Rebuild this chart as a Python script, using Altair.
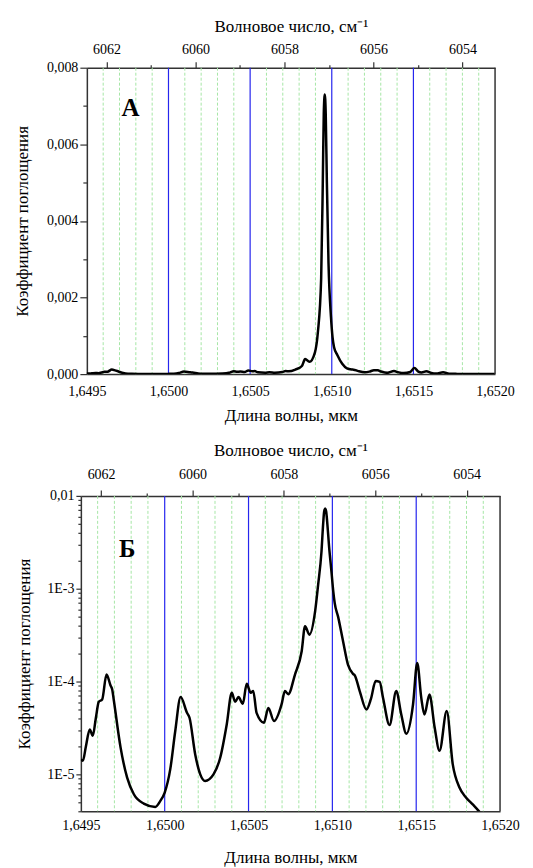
import altair as alt
import pandas as pd

# ---- spectrum (wavelength in µm, absorption coefficient) ----
wl = [1.64950, 1.649512, 1.649530, 1.649553, 1.649571, 1.649589, 1.649607, 1.649627,
      1.649653, 1.649677, 1.649687, 1.649697, 1.649737, 1.649776, 1.649816, 1.649875,
      1.649944, 1.649974, 1.650000, 1.650033, 1.650063, 1.650095, 1.650133, 1.650148,
      1.650182, 1.650212, 1.650241, 1.650291, 1.650331, 1.650370, 1.650400, 1.650420,
      1.650440, 1.650466, 1.650489, 1.650513, 1.650528, 1.650548, 1.650592, 1.650618,
      1.650652, 1.650697, 1.650717, 1.650737, 1.650777, 1.650817, 1.650837, 1.650863,
      1.650897, 1.650915, 1.650935, 1.650945, 1.650951, 1.650957, 1.650963, 1.650970,
      1.650980, 1.650995, 1.651005, 1.651014, 1.651034, 1.651064, 1.651093, 1.651123,
      1.651133, 1.651163, 1.651203, 1.651230, 1.651258, 1.651282, 1.651302, 1.651341,
      1.651381, 1.651410, 1.651441, 1.651481, 1.651506, 1.651530, 1.651549, 1.651579,
      1.651610, 1.651639, 1.651682, 1.651718, 1.651758, 1.651798, 1.651837, 1.651872,
      1.651900, 1.652000]
absorb = [1.45e-5, 1.40e-5, 2.0e-5, 3.05e-5, 2.6e-5, 4.0e-5, 6.05e-5, 6.4e-5,
          1.19e-4, 9.06e-5, 8.2e-5, 6.2e-5, 1.94e-5, 9.2e-6, 6.1e-6, 4.84e-6,
          4.46e-6, 5.18e-6, 6.36e-6, 1.13e-5, 2.93e-5, 6.8e-5, 4.6e-5, 4.07e-5,
          1.64e-5, 1.0e-5, 8.5e-6, 1.0e-5, 1.51e-5, 3.45e-5, 7.55e-5, 6.05e-5,
          6.8e-5, 5.75e-5, 9.44e-5, 7.55e-5, 7.9e-5, 4.6e-5, 3.6e-5, 5.2e-5,
          3.75e-5, 5.66e-5, 7.9e-5, 7.3e-5, 1.19e-4, 2.12e-4, 3.95e-4, 3.2e-4,
          5.7e-4, 1.1e-3, 2.5e-3, 5.0e-3, 6.8e-3, 7.3e-3, 6.8e-3, 5.0e-3,
          2.9e-3, 1.5e-3, 9.5e-4, 7.0e-4, 5.0e-4, 2.7e-4, 1.52e-4, 1.21e-4,
          1.17e-4, 7.9e-5, 5.0e-5, 6.5e-5, 1.01e-4, 9.9e-5, 6.7e-5, 3.4e-5,
          7.9e-5, 4.5e-5, 2.74e-5, 5.66e-5, 1.58e-4, 6.7e-5, 4.4e-5, 7.24e-5,
          3.2e-5, 1.79e-5, 4.8e-5, 1.28e-5, 7.2e-6, 5.6e-6, 4.75e-6, 4.04e-6,
          3.4e-6, 2.0e-6]

x_domain = [1.6495, 1.6520]
x_ticks = [1.6495, 1.6500, 1.6505, 1.6510, 1.6515, 1.6520]
major_lines = [1.6500, 1.6505, 1.6510, 1.6515]
minor_lines = [1.6496, 1.6497, 1.6498, 1.6499, 1.6501, 1.6502, 1.6503, 1.6504,
               1.6506, 1.6507, 1.6508, 1.6509, 1.6511, 1.6512, 1.6513, 1.6514,
               1.6516, 1.6517, 1.6518, 1.6519]
border_line = [1.6520]
wn_ticks = [6054, 6055, 6056, 6057, 6058, 6059, 6060, 6061, 6062]
lin_domain = [0, 0.008]
lin_ticks = [0, 0.001, 0.002, 0.003, 0.004, 0.005, 0.006, 0.007, 0.008]
log_domain = [4e-6, 0.01]
log_ticks = [4e-6, 5e-6, 6e-6, 7e-6, 8e-6, 9e-6,
             1e-5, 2e-5, 3e-5, 4e-5, 5e-5, 6e-5, 7e-5, 8e-5, 9e-5,
             1e-4, 2e-4, 3e-4, 4e-4, 5e-4, 6e-4, 7e-4, 8e-4, 9e-4,
             1e-3, 2e-3, 3e-3, 4e-3, 5e-3, 6e-3, 7e-3, 8e-3, 9e-3, 1e-2]
panel_text = ["А", "Б"]
panel_wl = [1.649767, 1.649776]
panel_val = [0.00695, 0.00265]

FONT = "Liberation Serif"
FRAME = "#333333"

spec_df = pd.DataFrame({"wl": wl, "val": absorb})
major_df = pd.DataFrame({"wl": major_lines})
minor_df = pd.DataFrame({"wl": minor_lines})
border_df = pd.DataFrame({"wl": border_line})
wn_df = pd.DataFrame({"wn": wn_ticks})


def panel(i, log, width, x_range, y_axis_offset, height, title_pad_y,
          top_label_pad, top_title_pad, bot_label_pad, bot_title_pad,
          ytick_major, ytick_minor):
    xs = alt.Scale(domain=x_domain, range=x_range, nice=False, zero=False)
    if log:
        ys = alt.Scale(type="log", domain=log_domain, nice=False)
        ylab = ("datum.value == 0.01 ? '0,01' : "
                "(abs(log(datum.value)/LN10 - round(log(datum.value)/LN10)) < 1e-6 ? "
                "'1E' + round(log(datum.value)/LN10) : '')")
        ytest = "abs(log(datum.value)/LN10 - round(log(datum.value)/LN10)) < 1e-6"
        yvals = log_ticks
    else:
        ys = alt.Scale(domain=lin_domain, nice=False, zero=False)
        ylab = ("round(datum.value*1000) % 2 == 0 ? "
                "replace(format(datum.value, '.3f'), '.', ',') : ''")
        ytest = "round(datum.value*1000) % 2 == 0"
        yvals = lin_ticks

    x_axis = alt.Axis(orient="bottom", values=x_ticks, title="Длина волны, мкм",
                      labelExpr="replace(format(datum.value, '.4f'), '.', ',')",
                      ticks=False, labelPadding=bot_label_pad,
                      titlePadding=bot_title_pad, labelFlush=False,
                      labelOverlap=False)
    y_axis = alt.Axis(orient="left", values=yvals, title="Коэффициент поглощения",
                      labelExpr=ylab, offset=y_axis_offset,
                      tickSize={"condition": {"test": ytest, "value": ytick_major},
                                "value": ytick_minor},
                      labelPadding=2, titlePadding=title_pad_y,
                      labelOverlap=False, labelFlush=False)

    X = alt.X("wl:Q", scale=xs, axis=x_axis)
    Y = alt.Y("val:Q", scale=ys, axis=y_axis)

    minor = alt.Chart(minor_df).mark_rule(
        color="#a6e6a6", strokeDash=[3, 2], strokeWidth=1
    ).encode(x=X)
    major = alt.Chart(major_df).mark_rule(
        color="#2626ee", strokeWidth=1.2
    ).encode(x=X)
    line = alt.Chart(spec_df).mark_line(
        color="black", strokeWidth=2.5, interpolate="monotone", clip=True
    ).encode(x=X, y=Y)
    border = alt.Chart(border_df).mark_rule(
        color=FRAME, strokeWidth=1.5
    ).encode(x=X)
    lab_df = pd.DataFrame({"wl": [panel_wl[i]], "val": [panel_val[i]],
                           "t": [panel_text[i]]})
    label = alt.Chart(lab_df).mark_text(
        font=FONT, fontSize=25, fontWeight="bold", color="black"
    ).encode(x=X, y=Y, text="t:N")

    main = alt.layer(minor, major, line, border, label)

    top = alt.Chart(wn_df).mark_point(opacity=0).encode(
        x=alt.X("wn:Q",
                scale=alt.Scale(domain=[1e4 / x_domain[0], 1e4 / x_domain[1]],
                                range=x_range, nice=False, zero=False),
                axis=alt.Axis(orient="top", values=wn_ticks,
                              title="Волновое число, см⁻¹",
                              labelExpr="datum.value % 2 == 0 ? format(datum.value, 'd') : ''",
                              tickSize={"condition": {"test": "datum.value % 2 == 0", "value": 6},
                                        "value": 3},
                              labelPadding=top_label_pad, titlePadding=top_title_pad,
                              labelOverlap=False, labelFlush=False))
    )
    return alt.layer(main, top).resolve_scale(x="independent").properties(
        width=width, height=height)


p1 = panel(0, False, 415, [6, 415], -6, 307, 15, 5, 7.5, 10, 9, 7, 4)
p2 = panel(1, True, 420, [0, 420], 0, 316, 13, 8.5, 7.5, 7.5, 17, 5, 3)

chart = alt.vconcat(p1, p2, spacing=19).properties(
    padding={"top": 8, "left": 5, "right": 5, "bottom": 0}
).configure(
    font=FONT
).configure_axis(
    labelFont=FONT, titleFont=FONT, labelFontSize=14, titleFontSize=17,
    titleFontWeight="normal", labelColor="black", titleColor="black",
    domainColor=FRAME, tickColor=FRAME, domainWidth=1.5, tickWidth=1.2,
    grid=False
).configure_view(stroke=None)

chart.save("out.html", embed_options={"renderer": "svg", "actions": False})
